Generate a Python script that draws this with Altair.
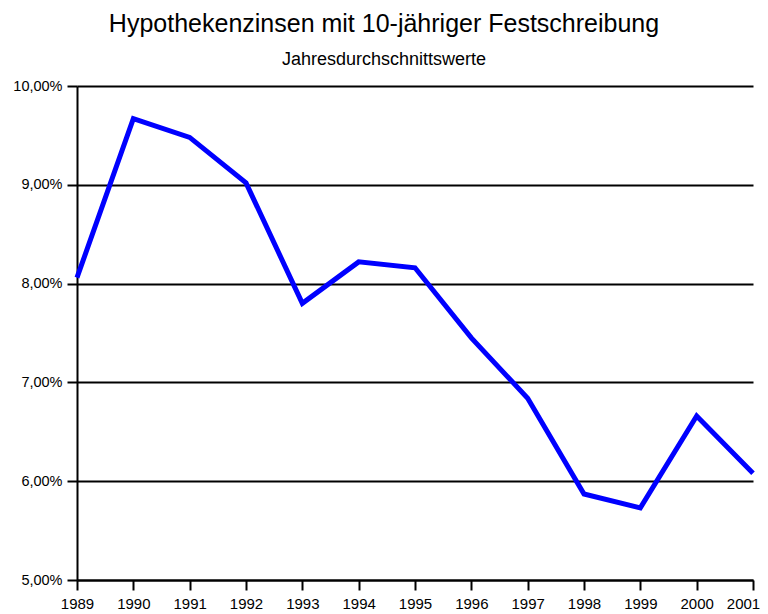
import altair as alt
import pandas as pd

years = [1989, 1990, 1991, 1992, 1993, 1994, 1995, 1996, 1997, 1998, 1999, 2000, 2001]
rates = [8.06, 9.67, 9.48, 9.02, 7.80, 8.22, 8.16, 7.45, 6.84, 5.87, 5.73, 6.66, 6.08]
y_ticks = [5, 6, 7, 8, 9, 10]

df = pd.DataFrame({"Jahr": years, "Zins": rates})

FONT = "Liberation Sans"

chart = alt.Chart(df).mark_line(color="#0000FF", strokeWidth=5, strokeJoin="miter").encode(
    x=alt.X("Jahr:Q",
            scale=alt.Scale(domain=[1989, 2001], nice=False, zero=False),
            axis=alt.Axis(values=years, format="d", title=None, grid=False,
                          domainColor="black", domainWidth=2, tickColor="black",
                          tickWidth=2, tickSize=10, labelFontSize=15, labelColor="black",
                          labelFont=FONT, labelPadding=6, labelOverlap=False,
                          labelFlush=False, labelBound=False,
                          labelOffset={"expr": "datum.value == 2001 ? -10 : 0"})),
    y=alt.Y("Zins:Q",
            scale=alt.Scale(domain=[5, 10], nice=False, zero=False),
            axis=alt.Axis(values=y_ticks, title=None, grid=True, gridColor="black",
                          gridWidth=2, gridOpacity=1, domainColor="black", domainWidth=2,
                          tickColor="black", tickWidth=2, tickSize=10, labelFontSize=14.5,
                          labelColor="black", labelFont=FONT, labelPadding=5,
                          labelExpr="replace(format(datum.value, '.2f'), '.', ',') + '%'")),
).properties(
    width=676,
    height=494,
    autosize=alt.AutoSizeParams(type="none"),
    padding={"left": 69, "top": 78, "right": 7, "bottom": 30},
    title=alt.Title(
        "Hypothekenzinsen mit 10-jähriger Festschreibung",
        subtitle="Jahresdurchschnittswerte",
        font=FONT, fontSize=25, fontWeight="normal", color="black",
        subtitleFont=FONT, subtitleFontSize=18, subtitleColor="black",
        subtitlePadding=14, offset=9, dx=-31, anchor="middle",
    ),
).configure_view(stroke=None)

chart.save("out.html", embed_options={"renderer": "svg", "actions": False})
